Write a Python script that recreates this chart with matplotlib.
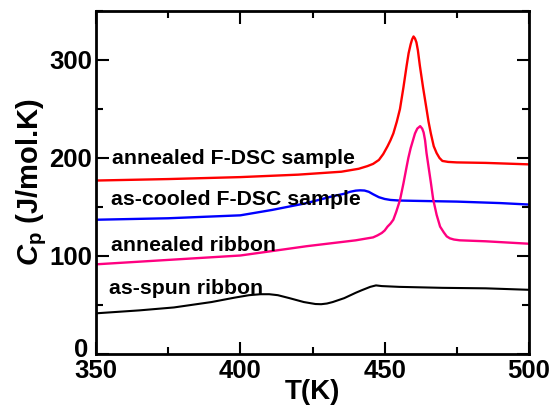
import numpy as np
import matplotlib
matplotlib.use('Agg')
import matplotlib.pyplot as plt
from matplotlib.ticker import MultipleLocator, FuncFormatter

plt.rcParams.update({
    'font.family': ['Liberation Sans', 'DejaVu Sans'],
    'font.weight': 'bold',
    'mathtext.fontset': 'custom',
    'mathtext.rm': 'Liberation Sans:bold',
    'mathtext.bf': 'Liberation Sans:bold',
    'mathtext.it': 'Liberation Sans:bold:italic',
})

# ── Data ───────────────────────────────────────────────────────
T_red = [350, 375, 400, 420, 435, 441, 444, 446, 448, 449.5, 451, 452, 453,
         454.2, 455.3, 456.5, 457.6, 458.3, 459, 459.5, 460, 460.5, 461, 461.5,
         462.2, 463.3, 464.5, 465.2, 466, 467, 468, 469, 470, 472, 475, 485, 500]
cp_red = [177, 178.5, 180.5, 183, 186, 189, 191.7, 194, 198, 204, 212, 218, 225,
          237, 250, 272, 294, 307, 316, 321, 324, 322, 318, 310,
          294, 272, 250, 237, 225, 212, 205, 200, 197, 196, 195.5, 195, 193.5]

T_blue = [350, 375, 400, 411, 423, 432, 436, 438, 440, 441.5, 443, 444.5, 446,
          448, 450, 452, 455, 460, 475, 490, 500]
cp_blue = [137, 138.5, 141.5, 147, 154, 161, 163.5, 165.5, 166.7, 167, 166.8,
           165.5, 163, 160, 158.2, 157.2, 156.6, 156.3, 155.5, 154, 152.5]

T_mag = [350, 375, 400, 423, 440, 446, 447.5, 449, 450, 451, 452, 453, 454,
         455.3, 456.5, 457.6, 458.2, 459, 460.5, 461.3, 462.3, 463, 463.5, 464,
         464.5, 465, 465.6, 466, 466.8, 467.4, 468, 469.2, 470.5, 471.5, 472.6,
         474, 476, 485, 500]
cp_mag = [91.5, 96, 100.5, 110, 116, 119, 121, 123.5, 126, 130, 133, 137, 145,
          157, 174, 191, 200, 210, 225, 230, 232.5, 230, 226, 218,
          205, 195, 183, 175, 158, 150, 142, 130, 124, 120, 118,
          116.8, 116, 115, 112.5]

T_black = [350, 365, 377, 390, 398, 403, 407, 410, 413, 417, 422, 426, 428,
           430, 432, 436, 440, 442, 445, 447, 449, 455, 470, 485, 500]
cp_black = [41.5, 44.5, 47.5, 53, 57.5, 60, 61, 61, 60, 57, 53, 51, 50.8,
            51.5, 53, 57, 62.5, 65, 68.5, 70, 69.3, 68.5, 67.5, 67, 65.5]

labels = ['annealed F-DSC sample', 'as-cooled F-DSC sample',
          'annealed ribbon', 'as-spun ribbon']
label_x = [355.5, 355.3, 355.3, 354.5]
label_y = [193.4, 152.5, 104.7, 61.1]

# ── Figure ─────────────────────────────────────────────────────
fig = plt.figure(figsize=(5.53, 4.12), dpi=100)
ax = fig.add_axes([0.1736, 0.1408, 0.783, 0.8325])

line_kw = dict(solid_joinstyle='round', solid_capstyle='round')
ax.plot(T_red, cp_red, color='#ff0000', lw=1.7, **line_kw)
ax.plot(T_blue, cp_blue, color='#0000ff', lw=1.7, **line_kw)
ax.plot(T_mag, cp_mag, color='#ff0080', lw=1.7, **line_kw)
ax.plot(T_black, cp_black, color='black', lw=1.5, **line_kw)

for s, x, y in zip(labels, label_x, label_y):
    ax.text(x, y, s, fontsize=15.3, fontweight='bold', va='baseline', ha='left')

ax.set_xlim(350, 500)
ax.set_ylim(0, 350)
ax.xaxis.set_major_locator(MultipleLocator(50))
ax.xaxis.set_minor_locator(MultipleLocator(25))
ax.yaxis.set_major_locator(MultipleLocator(100))
ax.yaxis.set_minor_locator(MultipleLocator(50))
# the "0" label sits a little higher in the original, drawn separately below
ax.yaxis.set_major_formatter(FuncFormatter(lambda v, p: '' if v == 0 else f'{v:.0f}'))
ax.tick_params(which='both', direction='in', top=True, right=True, width=1.5,
               labelsize=18.5)
ax.tick_params(which='major', length=9)
ax.tick_params(which='minor', length=5)
ax.tick_params(axis='x', pad=3.5)
ax.tick_params(axis='y', pad=3)
for lab in ax.get_yticklabels():
    lab.set_verticalalignment('center_baseline')
ax.annotate('0', xy=(350, 0), xytext=(-5.5, 5), textcoords='offset points',
            ha='right', va='center_baseline', fontsize=18.5, fontweight='bold',
            annotation_clip=False)
for sp in ax.spines.values():
    sp.set_linewidth(2)

ax.set_xlabel('T(K)', fontsize=20, fontweight='bold', labelpad=-2.5)
ax.set_ylabel(r'$C_{\mathrm{p}}$ (J/mol.K)', fontsize=21, fontweight='bold', labelpad=0)

fig.savefig('out.png', dpi=100)
